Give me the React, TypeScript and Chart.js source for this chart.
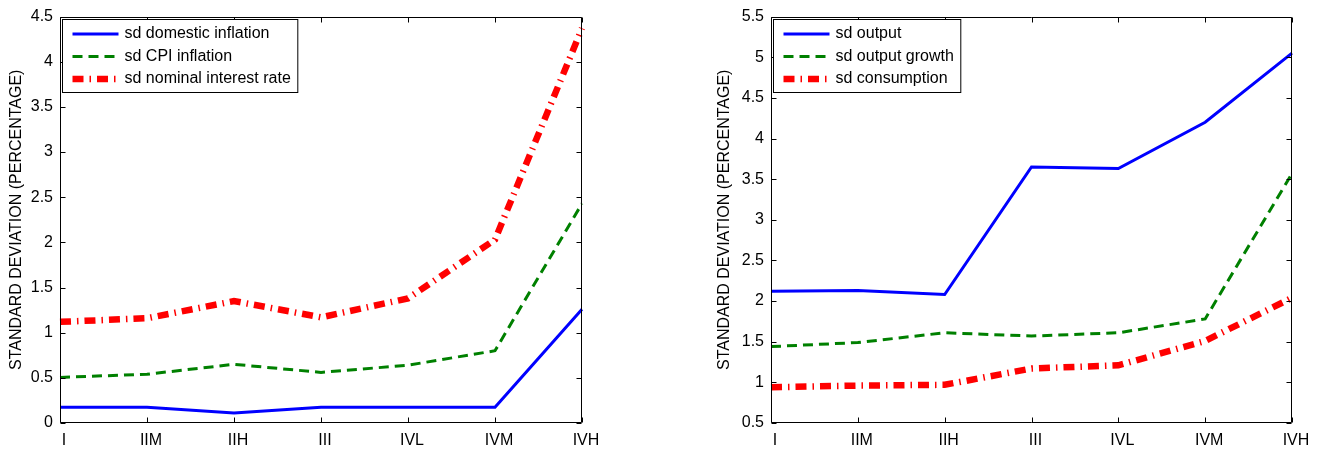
import React, { useEffect, useRef } from "react";
import { Chart, registerables } from "chart.js";
Chart.register(...registerables);

// ---------- data ----------
const categories = ["I", "IIM", "IIH", "III", "IVL", "IVM", "IVH"];

const sdDomesticInflation = [0.175, 0.175, 0.11, 0.175, 0.175, 0.175, 1.26];
const sdCpiInflation = [0.505, 0.54, 0.65, 0.56, 0.64, 0.8, 2.43];
const sdNominalInterestRate = [1.12, 1.16, 1.35, 1.17, 1.38, 2.03, 4.37];

const sdOutput = [2.12, 2.13, 2.08, 3.65, 3.63, 4.2, 5.05];
const sdOutputGrowth = [1.44, 1.49, 1.61, 1.57, 1.61, 1.78, 3.57];
const sdConsumption = [0.94, 0.96, 0.97, 1.17, 1.21, 1.51, 2.04];

const leftRange = [0, 4.5];
const rightRange = [0.5, 5.5];
const yStep = 0.5;
const yTitle = "STANDARD DEVIATION (PERCENTAGE)";

// ---------- styles ----------
const FONT = "'Liberation Sans', Arial, Helvetica, sans-serif";
const solidBlue = { color: "#0000ff", width: 3, dash: [] as number[] };
const dashGreen = { color: "#008000", width: 3, dash: [10, 6] };
const dashDotRed = { color: "#ff0000", width: 6.5, dash: [11, 6, 1.5, 6] };

function makeDataset(label: string, data: number[], st: any) {
  return {
    label,
    data,
    borderColor: st.color,
    backgroundColor: st.color,
    borderWidth: st.width,
    borderDash: st.dash,
    borderCapStyle: "butt",
    borderJoinStyle: "miter",
    pointRadius: 0,
    pointHoverRadius: 0,
    tension: 0,
    fill: false,
  };
}

const framePlugin = {
  id: "matlabFrame",
  afterDatasetsDraw(chart: any) {
    const { ctx, chartArea, scales } = chart;
    const { left, right, top, bottom } = chartArea;
    const xs = scales.x;
    const ys = scales.y;
    ctx.save();
    ctx.strokeStyle = "#000";
    ctx.lineWidth = 1;
    ctx.setLineDash([]);
    const L = Math.round(left) + 0.5;
    const R = Math.round(right) - 0.5;
    const T = Math.round(top) + 0.5;
    const B = Math.round(bottom) - 0.5;
    ctx.beginPath();
    ctx.rect(L, T, R - L, B - T);
    ctx.stroke();
    const tl = 5;
    ctx.beginPath();
    xs.ticks.forEach((_: any, i: number) => {
      const px = Math.round(xs.getPixelForTick(i)) + 0.5;
      ctx.moveTo(px, B);
      ctx.lineTo(px, B - tl);
      ctx.moveTo(px, T);
      ctx.lineTo(px, T + tl);
    });
    ys.ticks.forEach((_: any, i: number) => {
      const py = Math.round(ys.getPixelForTick(i)) + 0.5;
      ctx.moveTo(L, py);
      ctx.lineTo(L + tl, py);
      ctx.moveTo(R, py);
      ctx.lineTo(R - tl, py);
    });
    ctx.stroke();

    // legend box in upper-left of the axes
    const dsets = chart.data.datasets;
    ctx.font = `16px ${FONT}`;
    let maxW = 0;
    dsets.forEach((d: any) => {
      maxW = Math.max(maxW, ctx.measureText(d.label).width);
    });
    const bx = Math.round(left) + 2.5;
    const by = Math.round(top) + 2.5;
    const sampleL = bx + 10;
    const sampleR = sampleL + 46;
    const textX = sampleR + 6;
    const bw = textX + maxW + 7 - bx;
    const bh = 73;
    ctx.fillStyle = "#fff";
    ctx.fillRect(bx, by, bw, bh);
    ctx.strokeStyle = "#000";
    ctx.lineWidth = 1;
    ctx.strokeRect(bx, by, bw, bh);
    dsets.forEach((d: any, i: number) => {
      const yy = by + 14.5 + i * 22.5;
      ctx.save();
      ctx.strokeStyle = d.borderColor;
      ctx.lineWidth = d.borderWidth;
      ctx.lineCap = "butt";
      ctx.setLineDash(d.borderDash || []);
      ctx.beginPath();
      ctx.moveTo(sampleL, yy);
      ctx.lineTo(sampleR, yy);
      ctx.stroke();
      ctx.restore();
      ctx.fillStyle = "#000";
      ctx.textAlign = "left";
      ctx.textBaseline = "middle";
      ctx.fillText(d.label, textX, yy);
    });
    ctx.restore();
  },
};

function makeConfig(datasets: any[], range: number[], yWidth: number, titlePad: number, rightPad: number) {
  return {
    type: "line",
    data: { labels: categories, datasets },
    plugins: [framePlugin],
    options: {
      responsive: false,
      animation: false,
      devicePixelRatio: 1,
      layout: { padding: { top: 13, right: rightPad, bottom: 0, left: 0 } },
      plugins: { legend: { display: false }, tooltip: { enabled: false } },
      scales: {
        x: {
          type: "category",
          offset: false,
          grid: { display: false, drawTicks: false },
          border: { display: false },
          ticks: {
            color: "#000",
            font: { family: FONT, size: 16 },
            padding: 8,
            labelOffset: 4,
            autoSkip: false,
            maxRotation: 0,
            minRotation: 0,
          },
          afterFit: (s: any) => {
            s.height = 32;
          },
        },
        y: {
          type: "linear",
          min: range[0],
          max: range[1],
          grid: { display: false, drawTicks: false },
          border: { display: false },
          ticks: {
            stepSize: yStep,
            color: "#000",
            font: { family: FONT, size: 16 },
            padding: 7,
            callback: (v: any) => String(Math.round(Number(v) * 10) / 10),
          },
          title: {
            display: true,
            text: yTitle,
            color: "#000",
            font: { family: FONT, size: 16 },
            padding: { top: titlePad, bottom: 0 },
          },
          afterFit: (s: any) => {
            s.width = yWidth;
          },
        },
      },
    },
  };
}

function ChartCanvas({ config, left, width }: { config: any; left: number; width: number }) {
  const ref = useRef<HTMLCanvasElement | null>(null);
  useEffect(() => {
    if (!ref.current) return;
    const chart = new Chart(ref.current, config);
    return () => chart.destroy();
  }, [config]);
  return (
    <canvas
      ref={ref}
      width={width}
      height={455}
      style={{ position: "absolute", left, top: 0, width, height: 455 }}
    />
  );
}

const leftConfig = makeConfig(
  [
    makeDataset("sd domestic inflation", sdDomesticInflation, solidBlue),
    makeDataset("sd CPI inflation", sdCpiInflation, dashGreen),
    makeDataset("sd nominal interest rate", sdNominalInterestRate, dashDotRed),
  ],
  leftRange,
  60,
  7,
  640 - 582
);

const rightConfig = makeConfig(
  [
    makeDataset("sd output", sdOutput, solidBlue),
    makeDataset("sd output growth", sdOutputGrowth, dashGreen),
    makeDataset("sd consumption", sdConsumption, dashDotRed),
  ],
  rightRange,
  71,
  15,
  619 - 592
);

export default function App() {
  return (
    <div
      style={{
        position: "absolute",
        left: 0,
        top: 0,
        width: 1319,
        height: 455,
        background: "#fff",
        overflow: "hidden",
      }}
    >
      <ChartCanvas config={leftConfig} left={0} width={640} />
      <ChartCanvas config={rightConfig} left={700} width={619} />
    </div>
  );
}
